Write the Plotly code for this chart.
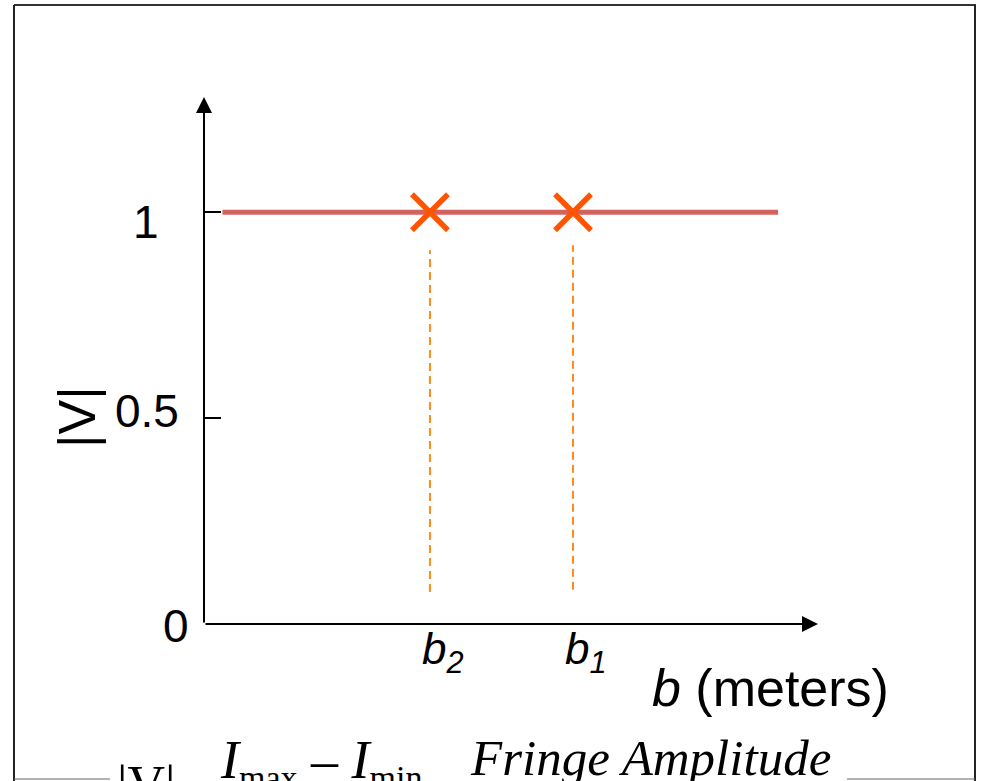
import plotly.graph_objects as go

# ---- data ----
baselines = [3.68, 6.01]          # b2, b1 (arbitrary units along b axis)
baseline_labels = ["b<sub>2</sub>", "b<sub>1</sub>"]
visibility = [1.0, 1.0]            # |V| measured at each baseline
curve_b = [0.3, 9.35]              # extent of |V| = 1 line
curve_v = [1.0, 1.0]
drop_top = [0.908, 0.92]
drop_bottom = [0.078, 0.083]
ytick_vals = [0, 0.5, 1]
ytick_text = ["0", "0.5", "1"]

W, H = 985, 781
L, R, T, B = 204, 167, 97, 157
pw, ph = W - L - R, H - T - B
XMAX, YMAX = 10, 1.28


def px(x):
    return (x - L) / pw


def py(y):
    return (H - B - y) / ph


fig = go.Figure()

# |V| = 1 line
fig.add_trace(go.Scatter(x=curve_b, y=curve_v, mode="lines",
                         line=dict(color="#D4635F", width=5),
                         hoverinfo="skip", showlegend=False))

# dashed drop lines
for b, yt, yb in zip(baselines, drop_top, drop_bottom):
    fig.add_trace(go.Scatter(x=[b, b], y=[yb, yt], mode="lines",
                             line=dict(color="#FF8A1F", width=2, dash="8px,5px"),
                             hoverinfo="skip", showlegend=False))

# X markers
fig.add_trace(go.Scatter(x=baselines, y=visibility, mode="markers",
                         marker=dict(symbol="x-thin", size=36,
                                     line=dict(color="#FF5500", width=5.5)),
                         hoverinfo="skip", showlegend=False, cliponaxis=False))

ann = []
# axes arrows
ann.append(dict(x=XMAX, y=0, ax=0, ay=0, xref="x", yref="y", axref="x", ayref="y",
                text="", showarrow=True, arrowhead=2, arrowsize=1.6, arrowwidth=2,
                arrowcolor="black"))
ann.append(dict(x=0, y=YMAX, ax=0, ay=0, xref="x", yref="y", axref="x", ayref="y",
                text="", showarrow=True, arrowhead=2, arrowsize=1.6, arrowwidth=2,
                arrowcolor="black"))

# y tick labels
tick_shift = {"0": (-28, -2), "0.5": (-57, 7), "1": (-58, -10)}
for v, t in zip(ytick_vals, ytick_text):
    dx, dy = tick_shift[t]
    ann.append(dict(x=0, y=v, xref="x", yref="y", text=t, showarrow=False,
                    xanchor="center", yanchor="middle",
                    xshift=dx, yshift=dy,
                    font=dict(family="Liberation Sans, Arial", size=46, color="black")))

# baseline labels
for b, t in zip(baselines, baseline_labels):
    ann.append(dict(x=b, y=0, xref="x", yref="y", text="<i>" + t + "</i>",
                    showarrow=False, xanchor="center", yanchor="top", xshift=13, yshift=2,
                    font=dict(family="Liberation Sans, Arial", size=44, color="black")))

# axis titles
ann.append(dict(x=px(770), y=py(688), xref="paper", yref="paper",
                xanchor="center", yanchor="middle",
                text="<i>b</i> (meters)", showarrow=False,
                font=dict(family="Liberation Sans, Arial", size=52, color="black")))
ann.append(dict(x=px(77), y=py(417), xref="paper", yref="paper",
                xanchor="center", yanchor="middle",
                text="|V|", showarrow=False, textangle=-90,
                font=dict(family="Liberation Sans, Arial", size=52, color="black")))

# formula (cut off at bottom)
sub_style = "<span style='font-size:34px'>{}</span>"
ann.append(dict(x=px(115), y=py(754), xref="paper", yref="paper", xanchor="left", yanchor="top",
                text="|V|", showarrow=False,
                font=dict(family="Liberation Serif, Times New Roman", size=52, color="black")))
ann.append(dict(x=px(218), y=py(728), xref="paper", yref="paper", xanchor="left", yanchor="top",
                text="<i>I</i><sub>" + sub_style.format("max") + "</sub> \u2013 <i>I</i><sub>"
                     + sub_style.format("min") + "</sub>", showarrow=False,
                font=dict(family="Liberation Serif, Times New Roman", size=54, color="black")))
ann.append(dict(x=px(468), y=py(728), xref="paper", yref="paper", xanchor="left", yanchor="top",
                text="<i>Fringe Amplitude</i>", showarrow=False,
                font=dict(family="Liberation Serif, Times New Roman", size=51, color="black")))

shapes = [
    # frame
    dict(type="line", xref="paper", yref="paper", x0=px(14), x1=px(976), y0=py(5), y1=py(5),
         line=dict(color="#333333", width=2)),
    dict(type="line", xref="paper", yref="paper", x0=px(14), x1=px(14), y0=py(5), y1=py(781),
         line=dict(color="#222222", width=2)),
    dict(type="line", xref="paper", yref="paper", x0=px(975), x1=px(975), y0=py(5), y1=py(781),
         line=dict(color="#222222", width=2)),
    dict(type="line", xref="paper", yref="paper", x0=px(14), x1=px(110), y0=py(779), y1=py(779),
         line=dict(color="#666666", width=1)),
    dict(type="line", xref="paper", yref="paper", x0=px(847), x1=px(975), y0=py(779), y1=py(779),
         line=dict(color="#666666", width=1)),
]

fig.update_layout(
    width=W, height=H,
    margin=dict(l=L, r=R, t=T, b=B, pad=0),
    paper_bgcolor="white", plot_bgcolor="white",
    xaxis=dict(range=[0, XMAX], showline=False, zeroline=False, showgrid=False,
               showticklabels=False, ticks="", fixedrange=True),
    yaxis=dict(range=[0, YMAX], showline=False, zeroline=False, showgrid=False,
               showticklabels=False, tickvals=[0.5, 1], ticks="inside", ticklen=17,
               tickwidth=2, tickcolor="black", fixedrange=True),
    annotations=ann,
    shapes=shapes,
    showlegend=False,
)

fig.write_html("out.html", config={"displayModeBar": False})
